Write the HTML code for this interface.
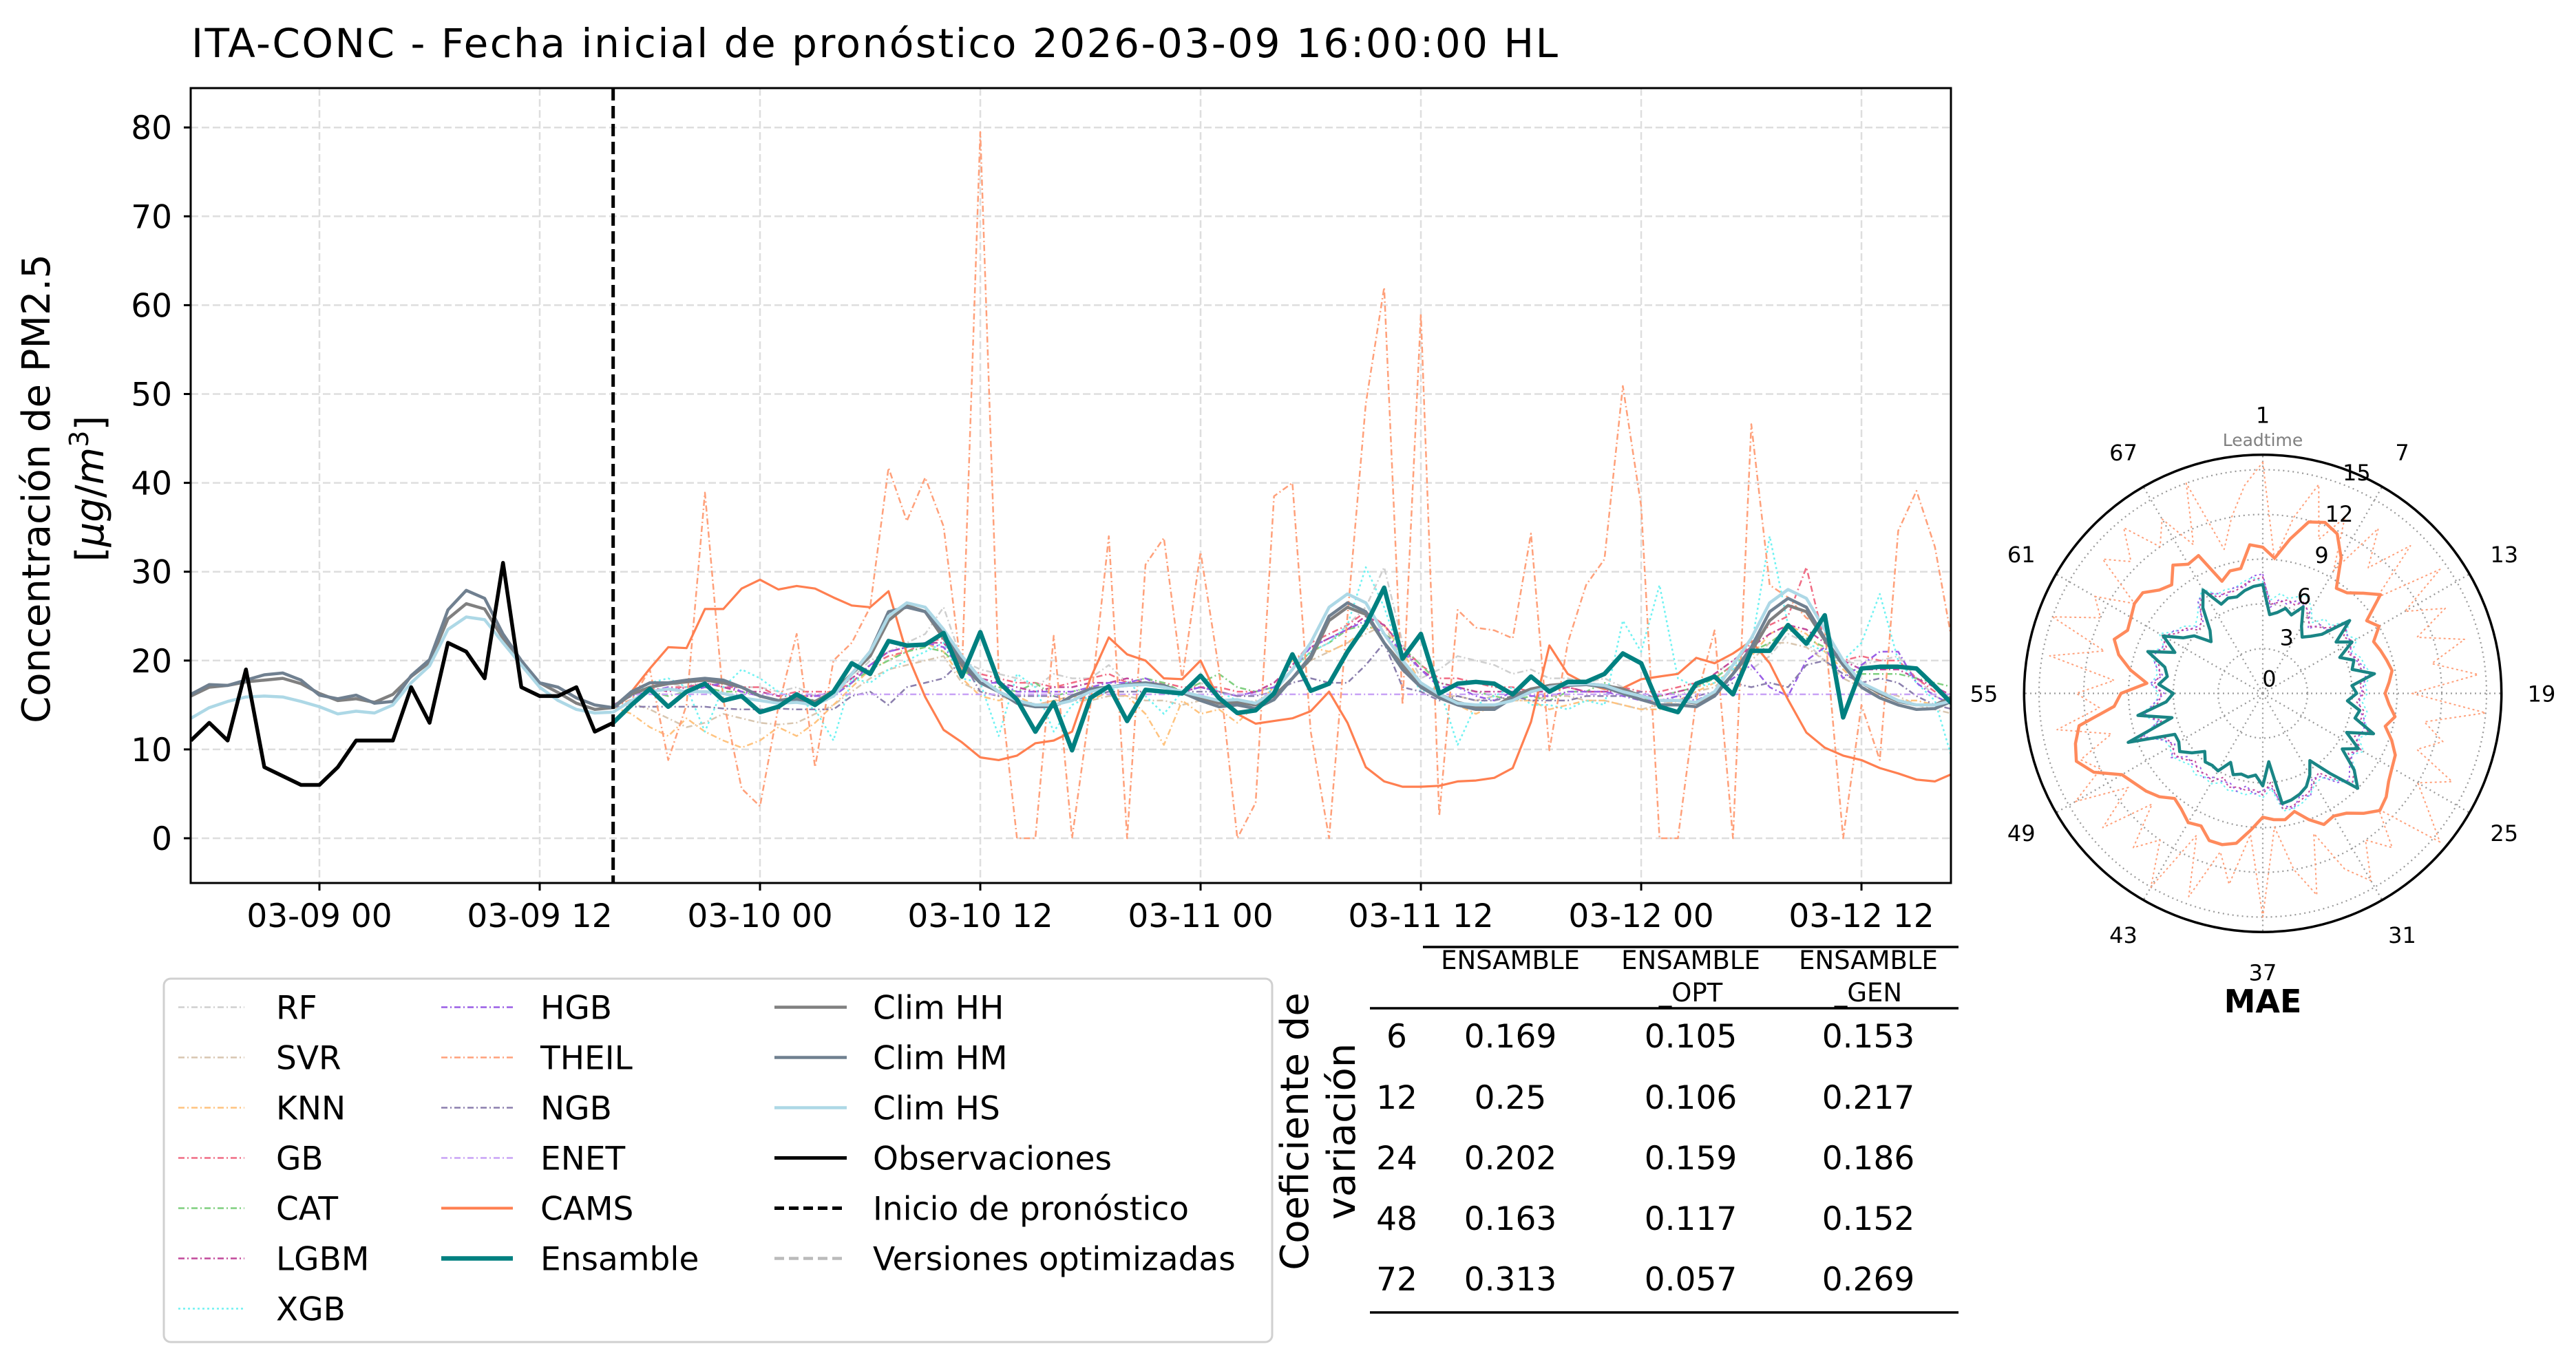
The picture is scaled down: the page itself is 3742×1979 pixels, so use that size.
<!DOCTYPE html>
<html><head><meta charset="utf-8">
<style>
html,body{margin:0;padding:0;background:#fff;}
svg{display:block;font-family:"DejaVu Sans","Liberation Sans",sans-serif;}
</style></head>
<body>
<svg id="fig" xmlns="http://www.w3.org/2000/svg" width="3742" height="1979" viewBox="0 0 3742 1979">
<defs><clipPath id="plotclip"><rect x="277" y="128" width="2557" height="1155"/></clipPath></defs>
<text x="278" y="83" font-size="58" textLength="1985">ITA-CONC - Fecha inicial de pronóstico 2026-03-09 16:00:00 HL</text>
<g id="grid"></g>
<g id="series" clip-path="url(#plotclip)"></g>
<rect x="277" y="128" width="2557" height="1155" fill="none" stroke="#000" stroke-width="3"/>
<g id="ticks"></g>
<g font-size="56">
<text transform="translate(72,710) rotate(-90)" text-anchor="middle">Concentración de PM2.5</text>
<text transform="translate(150,710) rotate(-90)" text-anchor="middle">[<tspan font-style="italic">μg</tspan>/<tspan font-style="italic">m</tspan><tspan font-size="38" dy="-22">3</tspan><tspan dy="22">]</tspan></text>
</g>
<g id="legend">
<rect x="238" y="1422" width="1610" height="528" rx="10" fill="#fff" stroke="#d0d0d0" stroke-width="3"/>
</g>
<g id="table" text-anchor="middle">
<line x1="2067" y1="1376" x2="2845" y2="1376" stroke="#000" stroke-width="3.5"/>
<line x1="1990" y1="1465" x2="2845" y2="1465" stroke="#000" stroke-width="3.5"/>
<line x1="1990" y1="1907" x2="2845" y2="1907" stroke="#000" stroke-width="3.5"/>
<g font-size="37">
<text x="2194" y="1408">ENSAMBLE</text>
<text x="2456" y="1408">ENSAMBLE</text><text x="2456" y="1455">_OPT</text>
<text x="2714" y="1408">ENSAMBLE</text><text x="2714" y="1455">_GEN</text>
</g>
<g font-size="47">
<text x="2029" y="1522">6</text><text x="2194" y="1522">0.169</text><text x="2456" y="1522">0.105</text><text x="2714" y="1522">0.153</text>
<text x="2029" y="1611">12</text><text x="2194" y="1611">0.25</text><text x="2456" y="1611">0.106</text><text x="2714" y="1611">0.217</text>
<text x="2029" y="1699">24</text><text x="2194" y="1699">0.202</text><text x="2456" y="1699">0.159</text><text x="2714" y="1699">0.186</text>
<text x="2029" y="1787">48</text><text x="2194" y="1787">0.163</text><text x="2456" y="1787">0.117</text><text x="2714" y="1787">0.152</text>
<text x="2029" y="1875">72</text><text x="2194" y="1875">0.313</text><text x="2456" y="1875">0.057</text><text x="2714" y="1875">0.269</text>
</g>
<g font-size="56">
<text transform="translate(1900,1644) rotate(-90)">Coeficiente de</text>
<text transform="translate(1968,1644) rotate(-90)">variación</text>
</g>
</g>
<g id="polar"></g>
<text x="3287" y="1471" font-size="46" font-weight="bold" text-anchor="middle">MAE</text>
</svg>
<script>
// ---------- main chart data ----------
const xTickHours = [0,12,24,36,48,60,72,84];
const xTickLabels = ["03-09 00","03-09 12","03-10 00","03-10 12","03-11 00","03-11 12","03-12 00","03-12 12"];
const yTicks = [0,10,20,30,40,50,60,70,80];
const obsStartHour = -7;
const observations = [11,13,11,19,8,7,6,6,8,11,11,11,17,13,22,21,18,31,17,16,16,17,12,13];
const climStartHour = -7;
const climHH = [16,17,17.2,17.6,17.8,18,17.4,16.3,15.5,15.7,15.3,16.2,18.2,19.8,24.7,26.4,25.8,22.5,19.8,17.5,16.4,15.2,14.5,14.7,
16.2,17,17.4,17.6,17.8,17.5,17,16,15.5,15.8,15.4,16.5,18.5,20.5,24.5,26.2,25.5,22.5,19.5,17.5,16.5,15.5,15,14.8,
16,16.8,17,17.2,17.4,17,16.5,15.8,15.2,15.3,15,16,18,20.2,24.5,26,25.2,22,19.5,17.3,16.2,15.3,14.8,14.8,
16,16.8,17.2,17.4,17.4,17.2,16.8,16,15.5,15.5,15.2,16.2,18.5,21,24.5,26.2,25.5,22.3,19.5,17.5,16.3,15.4,15,15,16];
const climHM = [16.2,17.3,17.2,17.8,18.4,18.6,17.8,16.1,15.7,16.1,15.2,15.4,18.3,20.1,25.7,27.9,27,23,20,17.5,17,15.8,15,14.7,
16.5,17.5,17.5,17.8,18,17.8,17,16,15.5,15.6,15.2,16,18.5,21,25.5,26,25.5,23,20,17.5,16.5,15.2,14.8,14.8,
16,16.8,17,17.3,17.5,17.2,16.4,15.5,14.8,15,14.6,15.6,18,20.5,25,26.5,25.5,22,19,17,15.8,15,14.5,14.5,
15.8,16.5,17,17.2,17.3,17,16.3,15.6,15,15,14.8,16,18.5,21.5,25.5,27,26,22.5,19.5,17,15.8,15,14.5,14.6,15.5];
const climHS = [13.5,14.7,15.4,15.9,16,15.9,15.4,14.8,14,14.3,14.1,15,17.5,19.4,23.5,24.9,24.6,22,19.5,17,15.5,14.5,14.1,14.2,
15.5,16.5,16.8,16.5,16.5,16.3,15.8,15.5,15.2,15.3,15,16,18.5,21,25,26.5,26,23.5,20.5,18,16.5,15.5,15,15,
15.5,16.5,17,17.2,17.3,17,16.5,16,15.5,15.6,15.2,16.5,19,22,26,27.5,26.5,23,20,17.5,16.2,15.2,15,15,
15.5,16.5,17,17.3,17.4,17.2,16.5,16,15.5,15.5,15.3,16.5,19.5,22.5,26.5,28,27,23.5,20,17.5,16.5,15.5,15,15,15.5];
const fcStartHour = 16;
const ensamble = [13,15,16.8,14.8,16.5,17.4,15.5,16,14.2,14.8,
16.2,15,16.5,19.7,18.5,22.2,21.7,21.8,23.1,18.2,
23.2,17.6,15.6,12,15.3,9.9,15.8,17.1,13.2,16.7,
16.5,16.3,18.3,15.8,14.1,14.4,16.3,20.7,16.6,17.4,
21,24,28.2,20.2,23,16.3,17.4,17.6,17.4,16.2,
18.2,16.5,17.6,17.6,18.5,20.8,19.7,14.8,14.2,17.4,
18.2,16.2,21.1,21.1,24,21.9,25.1,13.6,19.1,19.3,
19.3,19.1,17.1,15];
const cams = [14.8,16.5,19.1,21.5,21.4,25.8,25.8,28.1,29.1,28,
28.4,28.1,27.1,26.2,26,27.8,20.8,15.9,12.2,10.8,
9.1,8.8,9.3,10.7,11,12,18,22.6,20.7,20,
18,17.9,20,15.6,14,12.9,13.2,13.5,14.3,16.5,
13,8,6.4,5.8,5.8,5.9,6.4,6.5,6.8,7.9,
13.1,21.7,18.5,17.4,16.8,16.9,17.9,18.2,18.5,20.3,
19.7,20.8,22.2,19.7,15.6,11.9,10.2,9.3,8.8,7.9,
7.3,6.6,6.4,7.3];
const theil = [14.8,15.6,19,8.8,15,38.9,15.6,5.6,3.6,14.8,
23,8,20,22,26,41.7,35.7,40.6,35.1,18.5,
79.5,18.5,0,0,22.8,0,15,34,0,30.8,
33.8,17.9,32.2,19,0,4,38.5,40,12,0,
25,48.9,62,15,59,2.5,25.7,23.7,23.4,22.5,
34.3,9.9,22,28.5,31.4,50.9,37.4,0,0,15.6,
23.4,0,46.6,28.5,27.1,24.8,23.7,0,15,8.8,
34.6,39.1,32.8,21.4];
const rf = [15,16,17,17.5,17,18,17,17,17,16.5,
17,16,16.5,18,20,21,22,23,26,20,
19,18.5,18,17,18.5,18,18,19.5,17.5,18,
17,16.5,17.5,16.5,16,16.5,17,19,21,22,
24,26,30.5,22,18,19,20.5,20,19.5,18.5,
19,18,18,17.5,18,17,16,15,16,17,
18.5,20,19,20.5,23,22,20,20,19.5,20,
20.5,18,16,15];
const svr = [14.8,15.2,14.5,13.5,12.5,13,14,13.5,13,12.8,
13,14,15,16.5,18,19,19.5,20,20.5,17.5,
16.5,16,15.5,15,15.5,15.5,15.5,16,16,15.5,
15.5,15,15.5,15,15,15.5,16,18,20,21,
22,23,24,20,17.5,16,16,15.5,16,15.5,
15.5,16,16,15.5,15.5,15,14.5,15,15.5,16.5,
17,19,20,22,22,21.5,20,18,17,16.5,
16,15,14.5,14];
const knn = [14.8,14,12.5,11.5,13.5,12,11,10.2,11,12.5,
11.5,13,15,17,19,20,21.5,22,21,18,
16,15.5,16,15,15.5,16,15.5,16.5,16,14,
10.5,15.5,14,14.5,13,15,17,20,21.5,21,
22,23.5,24,21,17.5,16,15,14,15,15.5,
15.5,14.5,15,15.5,15.5,15,14.5,14.5,15.5,16.5,
17.5,19,20.5,23,24,23,21,19,17,16,
15.5,15.5,15,14.5];
const gb = [15,15.5,16.5,17,17,17.5,17,17,17,16,
16.5,16.5,16.5,17.5,19.5,20.5,21,22,22.5,19.5,
18.5,18,17.5,17.5,17,17.5,18,18.5,17.5,17.5,
17.5,17,17,17,16.5,16.5,17.5,19.5,22,23,
24,25.5,24,21.5,19.5,18,18,17.5,17,17,
16.5,17,17,16.5,16.5,17,16.5,16.5,17,17.5,
18,19.5,22,24,25,30.5,22,20,20.5,20,
20,18,16.5,16];
const cat = [15,16,16.5,16,16.5,17,16.5,16.5,16,15.5,
16,15.5,16,17.5,19,20,21,21.5,21,19,
17.5,17,16.5,17.5,16,16.5,17,17,17.5,18,
17.5,16.5,17.5,18.5,17,16.5,17,19,21,22,
23.5,24,23,21.5,19.5,17.5,17,16.5,16,15.5,
16,15.5,16.5,16.5,17.5,16.5,15.5,16,16.5,17,
18,19.5,21,22,23.5,22.5,21.5,19.5,18.5,18.5,
18.5,18,17.5,17];
const lgbm = [15,16,17,16.5,17,17.5,17,16.5,16.5,16,
16,16,16.5,18,19.5,21,21.5,22,22,19.5,
18,17.5,17,16.5,17,17,17.5,17.5,18,17.5,
17,16.5,17,16.5,16,16.5,17.5,19.5,21.5,22.5,
23.5,25,24,21.5,19,17.5,17,16.5,16.5,16.5,
16.5,16.5,17,16.5,16.5,16.5,16,16,16.5,17,
18.5,20,21.5,23,24,23.5,22,20,19,19,
19,18,17,16];
const xgb = [14.8,16,17.5,18,17,12,17,19,18,16.5,
15.5,14.5,11,18,17.5,19,20,21,22,18,
17.5,11.5,18.5,17,12,15,16,16.5,17.5,16,
14,16.5,18.5,16.5,15.5,15,17,19,21,22,
24,30.5,26,20,16.5,17,10.5,15,16,17,
15,15,14.5,15.5,15,24.5,21,28.5,18,17,
17.5,19,21.5,34,24,22,21,20,22,27.5,
20,17.5,15.5,8.5];
const hgb = [15,16,16.5,17,16.5,17,17.5,16.5,16,15.5,
16,16,16,17.5,19.5,21,21.5,22,21.5,19,
17.5,17.5,16.5,16.5,16.5,16.5,17,17.5,17.5,18,
17,16.5,17,16.5,16,16.5,17,19,21.5,22.5,
23.5,24.5,23,21,19,17,17,16,15.5,16.5,
16,16,16.5,16.5,16.5,16,15.5,15.5,16,15.5,
16.5,18,19.5,17,16,20,21.5,18,19.5,21,
21,17.5,16,15];
const ngb = [14.8,14.8,14.8,14.8,14.8,14.8,14.6,14.5,14.5,14.6,
14.5,14.5,14.5,16,16.5,15,17,17.5,18,20,
16.5,16,16,16,16,15.5,16,16.5,16.5,16.5,
16.5,16.5,16.5,16.5,16,16,16.5,17.5,18,17.5,
17.5,19.5,22,17,16.5,15.5,16,15.5,15.5,16,
15.5,15.5,15.5,16,16,16,16.5,15.5,15.5,16,
16.5,17.5,17,17.5,17,19.5,20,18.5,17.5,18,
17.5,16,15,14.5];
const enet = [14.8,16.2,16.2,16.2,16.2,16.2,16.2,16.2,16.2,16.2,
16.2,16.2,16.2,16.2,16.2,16.2,16.2,16.2,16.2,16.2,
16.2,16.2,16.2,16.2,16.2,16.2,16.2,16.2,16.2,16.2,
16.2,16.2,16.2,16.2,16.2,16.2,16.2,16.2,16.2,16.2,
16.2,16.2,16.2,16.2,16.2,16.2,16.2,16.2,16.2,16.2,
16.2,16.2,16.2,16.2,16.2,16.2,16.2,16.2,16.2,16.2,
16.2,16.2,16.2,16.2,16.2,16.2,16.2,16.2,16.2,16.2,
16.2,16.2,16.2,16.2];

// ---------- polar chart data ----------
const polarLabels = [1,7,13,19,25,31,37,43,49,55,61,67];
const polarRings = [0,3,6,9,12,15];
const maeEnsamble = [7.3,5.3,5.5,5.9,5.6,6.4,5.2,4.6,5.0,5.6,7.6,6.0,6.9,5.7,6.5,6.2,7.6,6.0,6.3,5.7,6.6,6.4,7.9,6.2,7.4,6.5,8.0,9.0,7.0,5.5,6.3,6.9,7.2,7.4,7.5,4.6,6.2,5.5,5.7,5.6,5.8,5.1,6.0,5.9,6.0,5.5,6.2,6.8,6.5,6.5,9.6,6.3,8.5,6.5,6.0,7.0,6.5,6.8,8.2,6.5,7.7,6.5,6.0,4.9,5.5,7.0,8.0,6.6,6.8,6.7,7.0,7.2];
const maeCams = [9.8,9.1,10.5,11.9,12.2,11.8,10.5,8.6,8.8,9.5,10.3,8.5,9.0,8.2,8.4,8.6,8.8,8.5,8.2,8.5,9.0,8.5,9.2,9.8,10.0,10.3,10.8,11.1,10.5,9.8,9.5,9.7,9.0,8.2,8.6,8.5,8.3,9.2,10.2,10.5,10.5,9.8,10.0,9.5,9.2,9.8,10.2,10.5,10.9,12.5,13.3,13.0,12.5,10.0,9.5,7.8,9.0,10.0,10.6,10.0,10.2,10.5,10.5,9.8,9.5,10.5,10.0,10.2,8.0,8.5,8.5,10.0];
const maeTheil = [15.5,9,12,14.5,11,13,9.5,13.5,11,14,10,14.5,11,13.5,11,14,11.5,14.5,10,15,11,12.5,11,14,12,13.5,15.5,11,13.5,12,14.5,13,10,14,12,9,15,9.5,13,11,14.5,10.5,15,12,13.5,10.5,14,11,14.5,12,13,10.5,14,11,12.5,10,14.5,11,15,12,13,10.5,14,12.5,14.5,12,13.5,11,15,10,12,14];
const maeGb = [7.8,6.0,6.2,6.5,6.3,6.8,6.0,5.5,5.8,6.2,7.5,6.6,7.0,6.3,6.8,6.7,7.3,6.5,6.8,6.3,6.9,6.8,7.5,6.8,7.6,7.0,8.0,8.5,7.5,6.5,6.9,7.3,7.6,7.8,7.9,6.0,6.8,6.5,6.6,6.5,6.7,6.2,6.8,6.6,6.8,6.4,6.9,7.2,7.0,7.1,8.8,7.0,8.3,7.0,6.8,7.3,7.0,7.2,8.0,7.1,7.8,7.0,6.8,6.0,6.4,7.3,8.0,7.1,7.2,7.1,7.4,7.6];
const maeHgb = [8.0,5.8,6.4,6.2,6.6,6.5,6.3,5.3,6.0,6.0,7.2,6.9,6.8,6.5,6.6,7.0,7.0,6.8,6.6,6.5,6.6,7.1,7.2,7.0,7.3,7.3,7.6,8.2,7.8,6.8,6.6,7.6,7.3,8.0,7.6,6.3,6.5,6.8,6.3,6.8,6.4,6.5,6.5,6.9,6.5,6.7,6.6,7.5,6.8,7.4,8.5,7.3,8.0,7.3,6.6,7.6,6.8,7.5,7.7,7.4,7.5,7.3,6.6,6.3,6.2,7.6,7.7,7.4,7.0,7.4,7.2,7.9];
const maeXgb = [7.5,6.3,6.8,6.6,6.9,7.2,6.5,5.8,6.5,6.4,7.6,6.8,7.3,6.6,7.0,7.1,7.4,6.9,7.0,6.7,7.1,7.0,7.7,7.1,7.8,7.2,8.1,8.6,7.6,6.9,7.0,7.5,7.8,8.0,8.0,6.4,7.0,6.7,6.9,6.8,6.9,6.6,7.0,6.8,7.1,6.8,7.1,7.4,7.2,7.3,8.9,7.2,8.4,7.2,7.0,7.5,7.2,7.4,8.1,7.3,8.0,7.2,7.0,6.4,6.8,7.5,8.1,7.3,7.4,7.3,7.6,7.8];

const NS = "http://www.w3.org/2000/svg";
function el(tag, parent){ const e = document.createElementNS(NS, tag); parent.appendChild(e); return e; }
const X0 = 464, PXH = 26.667, Y0 = 1218, PXV = 12.91;
function xs(h){ return X0 + h * PXH; }
function ys(v){ return Y0 - v * PXV; }

const grid = document.getElementById('grid');
const ticks = document.getElementById('ticks');
const series = document.getElementById('series');

yTicks.forEach(v => {
  const g = el('line', grid);
  
  
  g.setAttribute('x1', 277); g.setAttribute('x2', 2834);
  g.setAttribute('y1', ys(v)); g.setAttribute('y2', ys(v));
  g.setAttribute('stroke', '#dedede'); g.setAttribute('stroke-width', '2.5'); g.setAttribute('stroke-dasharray', '11,5');
  const t = el('line', ticks);
  
  
  t.setAttribute('x1', 267); t.setAttribute('x2', 277); t.setAttribute('y1', ys(v)); t.setAttribute('y2', ys(v));
  t.setAttribute('stroke', '#000'); t.setAttribute('stroke-width', '3');
  const lb = el('text', ticks);
  
  
  lb.setAttribute('x', 250); lb.setAttribute('y', ys(v) + 17);
  lb.setAttribute('text-anchor', 'end'); lb.setAttribute('font-size', '47');
  lb.textContent = v;
});
xTickHours.forEach((h, i) => {
  const g = el('line', grid);
  
  
  g.setAttribute('x1', xs(h)); g.setAttribute('x2', xs(h)); g.setAttribute('y1', 128); g.setAttribute('y2', 1283);
  g.setAttribute('stroke', '#dedede'); g.setAttribute('stroke-width', '2.5'); g.setAttribute('stroke-dasharray', '11,5');
  const t = el('line', ticks);
  
  
  t.setAttribute('x1', xs(h)); t.setAttribute('x2', xs(h)); t.setAttribute('y1', 1283); t.setAttribute('y2', 1294);
  t.setAttribute('stroke', '#000'); t.setAttribute('stroke-width', '3');
  const lb = el('text', ticks);
  
  
  lb.setAttribute('x', xs(h)); lb.setAttribute('y', 1347);
  lb.setAttribute('text-anchor', 'middle'); lb.setAttribute('font-size', '47');
  lb.textContent = xTickLabels[i];
});

function pathFrom(arr, start){
  return arr.map((v, i) => (i ? 'L' : 'M') + xs(start + i).toFixed(1) + ',' + ys(v).toFixed(1)).join(' ');
}
function addLine(arr, start, color, width, dash, name){
  const p = el('path', series);
  
  
  p.setAttribute('d', pathFrom(arr, start));
  p.setAttribute('fill', 'none'); p.setAttribute('stroke', color); p.setAttribute('stroke-width', width);
  p.setAttribute('stroke-linejoin', 'round');
  if (dash) p.setAttribute('stroke-dasharray', dash);
  return p;
}
const DD = '9,4,2,4', DT = '3,4';
addLine(rf, fcStartHour, '#cfcfcf', 2.5, DD, 'rf-line');
addLine(svr, fcStartHour, '#d8c6b0', 2.5, DD, 'svr-line');
addLine(knn, fcStartHour, '#ffc37f', 2.5, DD, 'knn-line');
addLine(gb, fcStartHour, '#f06c84', 2.5, DD, 'gb-line');
addLine(cat, fcStartHour, '#7fcf7f', 2.5, DD, 'cat-line');
addLine(lgbm, fcStartHour, '#c2489a', 2.5, DD, 'lgbm-line');
addLine(xgb, fcStartHour, '#6ff2f2', 2.5, DT, 'xgb-line');
addLine(hgb, fcStartHour, '#9a5ee6', 2.5, DD, 'hgb-line');
addLine(ngb, fcStartHour, '#8b7fad', 2.5, DD, 'ngb-line');
addLine(enet, fcStartHour, '#c8a2f5', 2.5, DD, 'enet-line');
addLine(theil, fcStartHour, '#ffa07a', 2.5, DD, 'theil-line');
addLine(cams, fcStartHour, '#ff7f50', 3.2, null, 'cams-line');
addLine(climHH, climStartHour, '#808080', 4.5, null, 'clim-hh-line');
addLine(climHM, climStartHour, '#708090', 4.5, null, 'clim-hm-line');
addLine(climHS, climStartHour, '#add8e6', 4.5, null, 'clim-hs-line');
addLine(observations, obsStartHour, '#000', 5.5, null, 'observations-line');
addLine(ensamble, fcStartHour, '#008080', 6.5, null, 'ensamble-line');
const vl = el('line', series);


vl.setAttribute('x1', xs(fcStartHour)); vl.setAttribute('x2', xs(fcStartHour));
vl.setAttribute('y1', 128); vl.setAttribute('y2', 1283);
vl.setAttribute('stroke', '#000'); vl.setAttribute('stroke-width', '5'); vl.setAttribute('stroke-dasharray', '18,8');

// ---------- legend ----------
const legendLabels = [["RF","SVR","KNN","GB","CAT","LGBM","XGB"],["HGB","THEIL","NGB","ENET","CAMS","Ensamble"],["Clim HH","Clim HM","Clim HS","Observaciones","Inicio de pronóstico","Versiones optimizadas"]];
const legendColors = [["#cfcfcf","#d8c6b0","#ffc37f","#f06c84","#7fcf7f","#c2489a","#6ff2f2"],["#9a5ee6","#ffa07a","#8b7fad","#c8a2f5","#ff7f50","#008080"],["#808080","#708090","#add8e6","#000","#000","#bbbbbb"]];
const legendWidths = [[2.5,2.5,2.5,2.5,2.5,2.5,2.5],[2.5,2.5,2.5,2.5,4,6.5],[4.5,4.5,4.5,5,5,4.5]];
const legendDash = [[DD,DD,DD,DD,DD,DD,DT],[DD,DD,DD,DD,null,null],[null,null,null,null,"14,7","14,7"]];
const legendCols = [{h1:259,h2:355,t:401},{h1:641,h2:745,t:785},{h1:1125,h2:1230,t:1268}];
const legend = document.getElementById('legend');
legendLabels.forEach((col, c) => {
  col.forEach((lab, r) => {
    const y = 1463.5 + r * 73;
    const ln = el('line', legend);
    
    
    ln.setAttribute('x1', legendCols[c].h1); ln.setAttribute('x2', legendCols[c].h2);
    ln.setAttribute('y1', y); ln.setAttribute('y2', y);
    ln.setAttribute('stroke', legendColors[c][r]); ln.setAttribute('stroke-width', legendWidths[c][r]);
    if (legendDash[c][r]) ln.setAttribute('stroke-dasharray', legendDash[c][r]);
    const t = el('text', legend);
    
    
    t.setAttribute('x', legendCols[c].t); t.setAttribute('y', y + 17);
    t.setAttribute('font-size', '47');
    t.textContent = lab;
  });
});

// ---------- polar ----------
const CX = 3287, CY = 1007.5, RPX = 21.67;
const polar = document.getElementById('polar');
function pxy(n, v){ const a = (n - 1) * 5 * Math.PI / 180; return [CX + v * RPX * Math.sin(a), CY - v * RPX * Math.cos(a)]; }
polarRings.slice(1).forEach(v => {
  const c = el('circle', polar);
  
  
  c.setAttribute('cx', CX); c.setAttribute('cy', CY); c.setAttribute('r', v * RPX);
  c.setAttribute('fill', 'none'); c.setAttribute('stroke', '#999'); c.setAttribute('stroke-width', '2.2'); c.setAttribute('stroke-dasharray', '2,5');
});
polarLabels.forEach(n => {
  const [x, y] = pxy(n, 16);
  const s = el('line', polar);
  
  
  s.setAttribute('x1', CX); s.setAttribute('y1', CY); s.setAttribute('x2', x); s.setAttribute('y2', y);
  s.setAttribute('stroke', '#999'); s.setAttribute('stroke-width', '2.2'); s.setAttribute('stroke-dasharray', '2,5');
  const [lx, ly] = pxy(n, 405 / RPX);
  const t = el('text', polar);
  
  
  t.setAttribute('x', lx); t.setAttribute('y', ly + 12);
  t.setAttribute('text-anchor', 'middle'); t.setAttribute('font-size', '32');
  t.textContent = n;
});
function polarPath(arr, color, width, dash, name){
  const p = el('path', polar);
  
  
  p.setAttribute('d', arr.map((v, i) => { const [x, y] = pxy(i + 1, v); return (i ? 'L' : 'M') + x.toFixed(1) + ',' + y.toFixed(1); }).join(' ') + ' Z');
  p.setAttribute('fill', 'none'); p.setAttribute('stroke', color); p.setAttribute('stroke-width', width);
  p.setAttribute('stroke-linejoin', 'round');
  if (dash) p.setAttribute('stroke-dasharray', dash);
}
polarPath(maeTheil, '#ffa07a', 2, '3,4', 'polar-theil');
polarPath(maeXgb, '#6ff2f2', 2, '3,4', 'polar-xgb');
polarPath(maeHgb, '#9a5ee6', 2, '3,4', 'polar-hgb');
polarPath(maeGb, '#c2489a', 2, '3,4', 'polar-gb');
polarPath(maeCams, '#ff8a5c', 4.5, null, 'polar-cams');
polarPath(maeEnsamble, '#1a8585', 4.5, null, 'polar-ensamble');
const oc = el('circle', polar);


oc.setAttribute('cx', CX); oc.setAttribute('cy', CY); oc.setAttribute('r', 16 * RPX);
oc.setAttribute('fill', 'none'); oc.setAttribute('stroke', '#000'); oc.setAttribute('stroke-width', '3.5');
polarRings.forEach(v => {
  const a = 23 * Math.PI / 180, rr = v * RPX + 24;
  const t = el('text', polar);
  
  
  t.setAttribute('x', CX + rr * Math.sin(a)); t.setAttribute('y', CY - rr * Math.cos(a) + 12);
  t.setAttribute('text-anchor', 'middle'); t.setAttribute('font-size', '32');
  t.textContent = v;
});
const lt = el('text', polar);


lt.setAttribute('x', CX); lt.setAttribute('y', 648);
lt.setAttribute('text-anchor', 'middle'); lt.setAttribute('font-size', '25'); lt.setAttribute('fill', '#808080');
lt.textContent = 'Leadtime';
</script>
</body></html>
